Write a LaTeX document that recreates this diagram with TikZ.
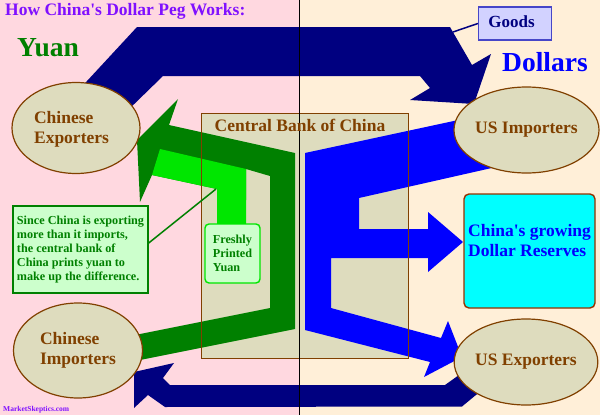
\documentclass[tikz,border=0pt]{standalone}
\usepackage{fontspec}
\setmainfont{Liberation Serif}
\usetikzlibrary{shapes.geometric}
\definecolor{pinkbg}{RGB}{255,216,224}
\definecolor{creambg}{RGB}{255,239,216}
\definecolor{beige}{RGB}{222,220,190}
\definecolor{brownc}{RGB}{128,64,0}
\definecolor{purplec}{RGB}{128,16,255}
\definecolor{dgreen}{RGB}{0,128,0}
\definecolor{bgreen}{RGB}{0,230,0}
\definecolor{lgreen}{RGB}{204,255,204}
\definecolor{navyc}{RGB}{0,0,128}
\definecolor{bluec}{RGB}{0,0,255}
\definecolor{goodsfill}{RGB}{210,210,255}
\definecolor{goodsdraw}{RGB}{70,70,200}
\definecolor{cyanc}{RGB}{0,255,255}
\definecolor{resdraw}{RGB}{150,50,0}
\tikzset{
  ell/.style={ellipse, draw=brownc, line width=1.2pt, fill=beige, inner sep=0pt,
    text=brownc, font=\bfseries\fontsize{17.5}{20}\selectfont, align=left},
  elltxt/.style={inner sep=0pt, text=brownc, font=\bfseries\fontsize{17.5}{20}\selectfont, align=left},
  cbbox/.style={rectangle, fill=beige, inner sep=0pt, minimum width=206pt, minimum height=244pt},
  goodsbox/.style={rectangle, fill=goodsfill, draw=goodsdraw, line width=1.3pt, inner sep=0pt,
    minimum width=73pt, minimum height=33pt},
  goodstxt/.style={inner sep=0pt, text=navyc, font=\bfseries\fontsize{17}{20}\selectfont},
  resbox/.style={rectangle, rounded corners=5pt, fill=cyanc, draw=resdraw, line width=1.4pt,
    inner sep=0pt, minimum width=131pt, minimum height=114pt},
  restxt/.style={inner sep=0pt, text=bluec, font=\bfseries\fontsize{17.5}{20}\selectfont, align=left},
  notebox/.style={rectangle, fill=lgreen, draw=dgreen, line width=1.4pt, inner sep=0pt,
    minimum width=135pt, minimum height=87pt, text=dgreen,
    font=\bfseries\fontsize{12.2}{14}\selectfont, align=left},
  freshbox/.style={rectangle, rounded corners=4pt, fill=lgreen, draw=bgreen, line width=1.4pt,
    inner sep=0pt, minimum width=55pt, minimum height=59pt, text=dgreen,
    font=\bfseries\fontsize{12.2}{14}\selectfont, align=left},
  bigtxt/.style={inner sep=0pt, anchor=base west, font=\bfseries\fontsize{27.5}{30}\selectfont},
}
\begin{document}
\begin{tikzpicture}[x=1pt,y=-1pt]
\useasboundingbox (0,0) rectangle (600,415);
\fill[pinkbg] (0,0) rectangle (299,415);
\fill[creambg] (299,0) rectangle (600,415);
\node[cbbox] (cb) at (305,236) {};
% navy arrows (goods)
\fill[navyc] (81,87.5) -- (137,27) -- (450,27) -- (472,65) -- (491,54) -- (474,104) -- (410,100)
  -- (430,88) -- (420,76) -- (163,76) -- (125,113) -- cycle;
\fill[navyc] (134,372) -- (174,363) -- (163,378) -- (170,385) -- (445,385) -- (466,370)
  -- (482,390) -- (462,406.5) -- (165,407) -- (148,395) -- (134,408) -- cycle;
% yuan arrows
\fill[dgreen] (130,362) -- (295,329) -- (295,153) -- (169,125) -- (178,99) -- (137,140) -- (140,202)
  -- (152,175) -- (217,189) -- (217,200) -- (246,200) -- (246,169) -- (270,176) -- (270,308)
  -- (130,336) -- cycle;
\fill[bgreen] (160,149) -- (246,169) -- (246,226) -- (217,226) -- (217,189) -- (152,175) -- cycle;
% dollar arrows
\fill[bluec] (305,153) -- (470,117.5) -- (505,165) -- (359,198) -- (359,229) -- (428,229)
  -- (428,212) -- (463,242) -- (428,272) -- (428,258) -- (331,258) -- (331,308) -- (441,338)
  -- (448,321) -- (462,357) -- (424,377) -- (430,362) -- (305,330) -- cycle;
\draw[brownc, line width=1.2pt] (cb.north west) rectangle (cb.south east);
\draw[black, line width=1.8pt] (299.5,0) -- (299.5,415);
% ellipses
\node[ell, minimum width=128pt, minimum height=91pt] (cexp) at (76,128) {};
\node[elltxt] (cexpt) at (71.5,129.5) {Chinese\\Exporters};
\node[ell, minimum width=129pt, minimum height=95pt] (cimp) at (78,350.5) {Chinese\\Importers};
\node[ell, minimum width=137pt, minimum height=86pt] (usimp) at (526.5,130) {US Importers};
\node[ell, minimum width=128pt, minimum height=86pt] (usexp) at (526,362) {US Exporters};
% central bank label
\node[elltxt, anchor=base] (cbt) at (300,131.5) {Central Bank of China};
% goods
\node[goodsbox] (goods) at (515,23.5) {};
\node[goodstxt] (goodst) at (511.5,21.8) {Goods};
\coordinate (goodsend) at (453,32);
\draw[navyc, line width=1.5pt] (goods.west) -- (goodsend);
% reserves
\node[resbox] (res) at (529.5,251) {};
\node[restxt] (rest) at (529.5,241) {China\textquotesingle s growing\\Dollar Reserves};
% note
\node[notebox] (note) at (80.5,249.5) {Since China is exporting\\more than it imports,\\the central bank of\\China prints yuan to\\make up the difference.};
\coordinate (notetip) at (216,189);
\draw[dgreen, line width=1.5pt] ([yshift=6.5pt]note.east) -- (notetip);
% freshly printed
\node[freshbox] (fresh) at (232.5,253.5) {Freshly\\Printed\\Yuan};
% titles
\node[inner sep=0pt, anchor=base west, text=purplec, font=\bfseries\fontsize{17.5}{20}\selectfont] (title) at (5,16) {How China\textquotesingle s Dollar Peg Works:};
\node[bigtxt, text=dgreen] (yuan) at (17,56) {Yuan};
\node[bigtxt, text=bluec] (dollars) at (502,71) {Dollars};
\node[inner sep=0pt, anchor=base west, text=purplec, font=\bfseries\fontsize{7.5}{9}\selectfont] (site) at (3,411) {MarketSkeptics.com};
\end{tikzpicture}
\end{document}
